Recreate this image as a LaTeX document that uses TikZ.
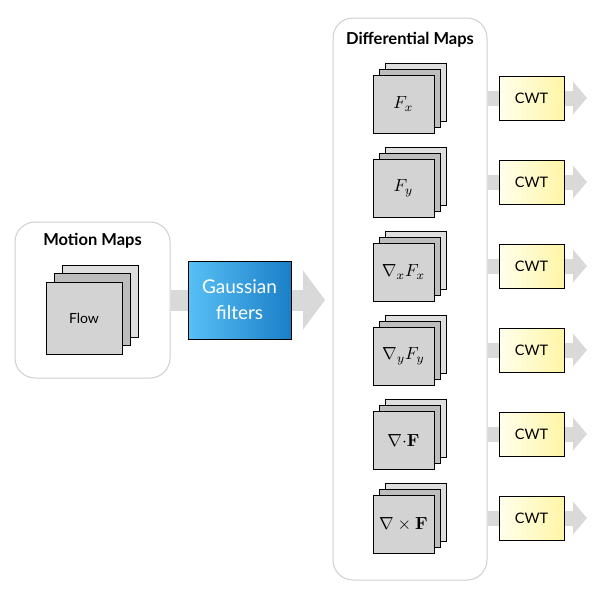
\documentclass[tikz,border=0pt]{standalone}
\usepackage[no-math]{fontspec}
\setmainfont{Lato}
\usetikzlibrary{arrows.meta,backgrounds}
\definecolor{panelline}{HTML}{CFCFCF}
\definecolor{bandgray}{HTML}{D9D9D9}
\definecolor{sheetfront}{HTML}{D3D3D3}
\definecolor{sheetmid}{HTML}{BDBDBD}
\definecolor{sheetback}{HTML}{DEDEDE}
\definecolor{gaussleft}{HTML}{58C0F6}
\definecolor{gaussright}{HTML}{1B7FC6}
\definecolor{cwtleft}{HTML}{FFFFEC}
\definecolor{cwtright}{HTML}{FFF5A6}
\tikzset{
	panel/.style={draw=panelline, line width=1pt, rounded corners=20pt, fill=white},
	paneltitle/.style={font=\fontsize{16.5}{18}\selectfont\bfseries},
	sheet/.style={draw=black, line width=0.9pt, inner sep=0pt},
	maplabel/.style={scale=1.75, inner sep=0pt},
	cwtbox/.style={draw=black, line width=1pt, left color=cwtleft, right color=cwtright,
		minimum width=65pt, minimum height=44pt, inner sep=0pt, font=\fontsize{14.5}{16}\selectfont},
	bigband/.style={draw=bandgray, line width=21pt, -{Triangle[length=22pt,width=58pt]}},
	smallband/.style={draw=bandgray, line width=15pt, -{Triangle[length=14pt,width=32pt]}}
}
\begin{document}
\begin{tikzpicture}[x=1pt,y=-1pt]
		\useasboundingbox (0,0) rectangle (600,600);
		%Motion maps panel
		\node [panel, minimum width=155pt, minimum height=156pt] (motion) at (92.5,300) {};
		\node [paneltitle] (motiontitle) at (92.5,241) {Motion Maps};
		%Flow stack, back to front
		\node [sheet, fill=sheetback, minimum width=76pt, minimum height=72pt] (flowc) at (100,301) {};
		\node [sheet, fill=sheetmid, minimum width=76pt, minimum height=72pt] (flowb) at (92,309) {};
		\node [sheet, fill=sheetfront, minimum width=76pt, minimum height=72pt,
			font=\fontsize{14}{16}\selectfont] (flow) at (84,318) {Flow};
		%Gaussian filters
		\node [draw=black, line width=1pt, left color=gaussleft, right color=gaussright,
			minimum width=103pt, minimum height=78pt, text=white, align=center,
			font=\fontsize{19}{26}\selectfont] (gauss) at (239.5,300) {Gaussian\\filters};
		\coordinate (gausstip) at (325,300);
		%Differential maps panel
		\node [panel, minimum width=154pt, minimum height=562pt] (diff) at (410,299) {};
		\node [paneltitle] (difftitle) at (410,40) {Differential Maps};
		%Stacks and CWT boxes
		\foreach \lab [count=\i from 0] in {{$F_x$},{$F_y$},{$\nabla_{x}F_x$},{$\nabla_{y}F_y$},
			{$\nabla{\cdot}\mathbf{F}$},{$\nabla\times\mathbf{F}$}} {
			\pgfmathsetmacro{\yc}{104+84*\i}
			\node [sheet, fill=sheetback, minimum width=61pt, minimum height=58pt] (mapc\i) at (415.5,\yc-12) {};
			\node [sheet, fill=sheetmid, minimum width=61pt, minimum height=58pt] (mapb\i) at (409.5,\yc-6) {};
			\node [sheet, fill=sheetfront, minimum width=61pt, minimum height=58pt] (map\i) at (403.5,\yc) {};
			\node [maplabel] (maplab\i) at (map\i) {\lab};
			\node [cwtbox] (cwt\i) at (531.5,\yc-6) {CWT};
			\coordinate (cwttip\i) at (587,\yc-6);
		}
		%Gray arrows behind the boxes
		\begin{pgfonlayer}{background}
			\draw [bigband] (motion.east) -- (gausstip);
			\foreach \i in {0,...,5} {
				\draw [smallband] (diff.east |- cwt\i) -- (cwttip\i);
			}
		\end{pgfonlayer}
\end{tikzpicture}
\end{document}
